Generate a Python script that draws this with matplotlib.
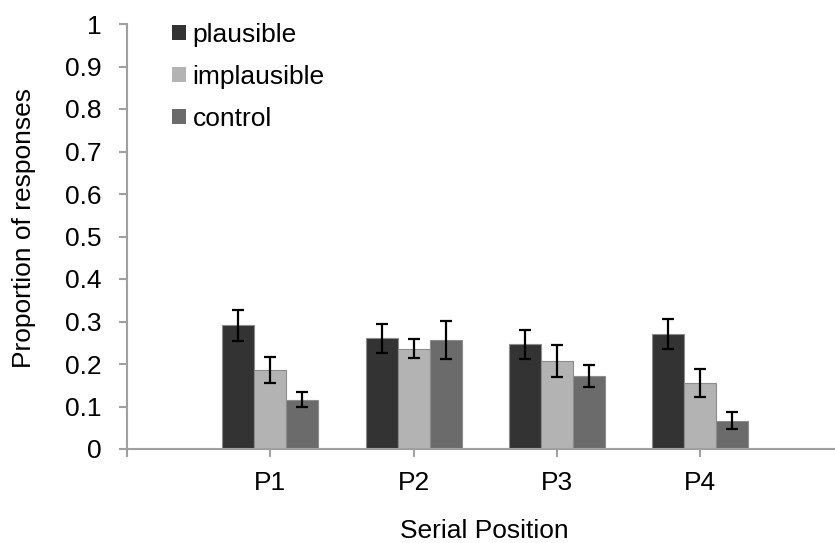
import matplotlib.pyplot as plt
from matplotlib.patches import Patch
import numpy as np

plt.rcParams['font.family'] = ['Liberation Sans', 'DejaVu Sans']

# data
positions = ['P1', 'P2', 'P3', 'P4']
plausible = [0.291, 0.261, 0.246, 0.271]
plausible_err = [0.037, 0.034, 0.034, 0.036]
implausible = [0.186, 0.236, 0.207, 0.156]
implausible_err = [0.030, 0.023, 0.038, 0.033]
control = [0.116, 0.256, 0.171, 0.066]
control_err = [0.018, 0.045, 0.026, 0.020]

series = [
    ('plausible', plausible, plausible_err, '#333333'),
    ('implausible', implausible, implausible_err, '#b3b3b3'),
    ('control', control, control_err, '#6b6b6b'),
]

fs = 19

fig = plt.figure(figsize=(8.35, 5.43), dpi=100)
ax = fig.add_axes([127 / 835, 1 - 449 / 543, 1 - 127 / 835, 425 / 543])

x = np.arange(1, len(positions) + 1)
w = 0.223
for i, (name, vals, errs, col) in enumerate(series):
    ax.bar(x + (i - 1) * w, vals, w, color=col, edgecolor='#8c8c8c', linewidth=0.8,
           yerr=errs, capsize=4.3, error_kw=dict(ecolor='black', elinewidth=1.6, capthick=1.6),
           label=name)

ax.set_xlim(0, 4.94)
ax.set_ylim(0, 1)
ax.set_yticks(np.arange(0, 1.01, 0.1))
ax.set_yticklabels(['0', '0.1', '0.2', '0.3', '0.4', '0.5', '0.6', '0.7', '0.8', '0.9', '1'])
ax.set_xticks([0] + list(x))
ax.set_xticklabels([''] + positions)

for side in ['top', 'right']:
    ax.spines[side].set_visible(False)
for side in ['left', 'bottom']:
    ax.spines[side].set_color('#a0a0a0')
    ax.spines[side].set_linewidth(1.5)
ax.tick_params(axis='y', colors='#a0a0a0', labelcolor='black', length=6, width=1.5,
               labelsize=fs, pad=12)
ax.tick_params(axis='x', colors='#a0a0a0', labelcolor='black', length=6, width=1.5,
               labelsize=fs, pad=10)

ax.set_ylabel('Proportion of responses', fontsize=fs)
ax.yaxis.set_label_coords(-(127 - 36) / 708, (449 - 228) / 425)
ax.set_xlabel('Serial Position', fontsize=fs)
ax.xaxis.set_label_coords((484 - 127) / 708, -(519 - 449) / 425)

handles = [Patch(facecolor=c, edgecolor='none') for _, _, _, c in series]
fig.legend(handles, [s[0] for s in series], loc='upper left',
           bbox_to_anchor=(172 / 835, 1 - 23 / 543), frameon=False, fontsize=fs,
           handlelength=0.53, handleheight=0.53, handletextpad=0.25, labelspacing=0.68,
           borderaxespad=0, borderpad=0)

fig.savefig('out.png', dpi=100)
